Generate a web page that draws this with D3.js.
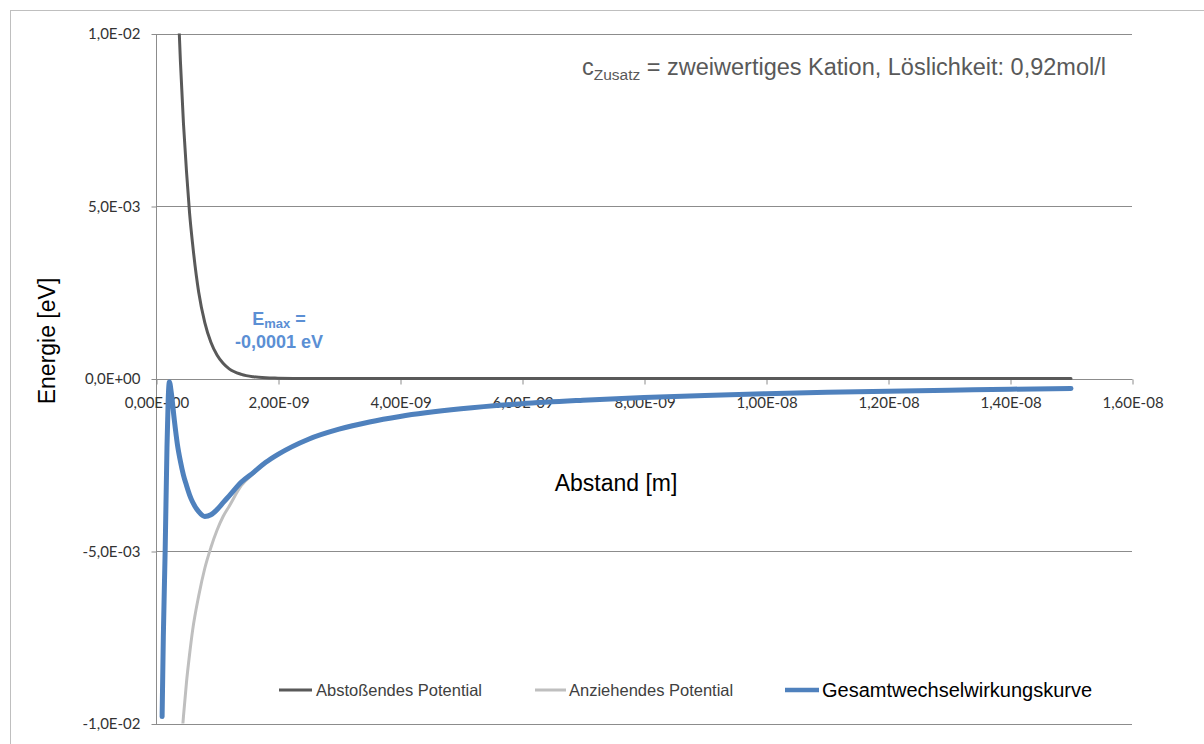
<!DOCTYPE html>
<html>
<head>
<meta charset="utf-8">
<script src="https://cdn.jsdelivr.net/npm/d3@7/dist/d3.min.js"></script>
<style>
  html, body { margin: 0; padding: 0; background: #ffffff; }
  svg { display: block; }
</style>
</head>
<body>
<svg id="chart" width="1204" height="744"></svg>
<script>
// Distance between particles in nanometres
const distanceNm = [0.10, 0.12, 0.15, 0.18, 0.20, 0.22, 0.25, 0.30, 0.35, 0.40, 0.45, 0.50, 0.55, 0.60,
  0.70, 0.80, 0.90, 1.0, 1.1, 1.2, 1.4, 1.6, 1.8, 2.0, 2.5, 3.0, 3.5, 4, 5, 6, 7, 8, 9, 10, 11, 12, 13, 14, 15];

// Repulsive (double layer) potential in eV
const repulsiveEv = [0.0339, 0.0311, 0.0273, 0.0240, 0.0220, 0.0201, 0.0177, 0.0142, 0.0114, 0.0092, 0.0074,
  0.0060, 0.0048, 0.0039, 0.0025, 0.00162, 0.00105, 0.00068, 0.00044, 0.00028, 0.00012, 0.00005, 0.00002,
  0.00001, 0, 0, 0, 0, 0, 0, 0, 0, 0, 0, 0, 0, 0, 0, 0];

// Attractive (van der Waals) potential in eV
const attractiveEv = [-0.044, -0.0367, -0.0293, -0.0244, -0.022, -0.020, -0.0176, -0.0147, -0.0126, -0.0110,
  -0.0098, -0.0088, -0.0080, -0.0073, -0.0063, -0.0055, -0.0049, -0.0044, -0.0040, -0.0037, -0.0031, -0.00275,
  -0.00244, -0.0022, -0.00176, -0.00147, -0.00126, -0.0011, -0.00088, -0.00073, -0.00063, -0.00055, -0.00049,
  -0.00044, -0.0004, -0.00037, -0.00034, -0.00031, -0.00029];

// Total interaction energy in eV
const totalEv = [-0.0098, -0.0075, -0.0050, -0.0020, -0.0006, -0.0001, -0.0004, -0.0012, -0.0019, -0.0024,
  -0.0028, -0.0031, -0.00337, -0.00358, -0.00386, -0.0040, -0.00395, -0.0038, -0.0036, -0.0034, -0.0030, -0.00272,
  -0.00243, -0.0022, -0.00176, -0.00147, -0.00126, -0.0011, -0.00088, -0.00073, -0.00063, -0.00055, -0.00049,
  -0.00044, -0.0004, -0.00037, -0.00034, -0.00031, -0.00029];

const xTickValues = [0, 2e-9, 4e-9, 6e-9, 8e-9, 1e-8, 1.2e-8, 1.4e-8, 1.6e-8];
const xTickLabels = ["0,00E+00", "2,00E-09", "4,00E-09", "6,00E-09", "8,00E-09", "1,00E-08", "1,20E-08", "1,40E-08", "1,60E-08"];
const yTickValues = [0.01, 0.005, 0, -0.005, -0.01];
const yTickLabels = ["1,0E-02", "5,0E-03", "0,0E+00", "-5,0E-03", "-1,0E-02"];

const seriesNames = ["Abstoßendes Potential", "Anziehendes Potential", "Gesamtwechselwirkungskurve"];
const seriesColors = ["#595959", "#bfbfbf", "#4f81bd"];
const emaxValue = d3.max(totalEv);

const svg = d3.select("#chart");
const plot = { left: 156, right: 1132, top: 33.5, bottom: 723.5 };

const x = d3.scaleLinear().domain([0, 1.6e-8]).range([plot.left, plot.right]);
const y = d3.scaleLinear().domain([-0.01, 0.01]).range([plot.bottom, plot.top]);

// outer chart frame
svg.append("rect")
  .attr("x", 10.5).attr("y", 10.5).attr("width", 1210).attr("height", 760)
  .attr("fill", "none").attr("stroke", "#bfbfbf").attr("stroke-width", 1);

const gridColor = "#8c8c8c";

// horizontal gridlines
svg.append("g").selectAll("line").data(yTickValues).join("line")
  .attr("x1", plot.left).attr("x2", plot.right)
  .attr("y1", d => Math.round(y(d)) + 0.5).attr("y2", d => Math.round(y(d)) + 0.5)
  .attr("stroke", gridColor).attr("stroke-width", 1);

// y axis
const yAxis = d3.axisLeft(y).tickValues(yTickValues)
  .tickFormat((d, i) => yTickLabels[i]).tickSize(5).tickPadding(11);
const gy = svg.append("g").attr("transform", `translate(${plot.left + 0.5},0.5)`).call(yAxis);
gy.select(".domain").attr("stroke", gridColor).attr("d", `M0,${plot.top}V${plot.bottom}`);
gy.selectAll(".tick line").attr("stroke", gridColor);
gy.selectAll(".tick text")
  .attr("font-family", "Lato, 'Open Sans', sans-serif").attr("font-size", 15).attr("fill", "#333");

// x axis along zero energy
const xAxis = d3.axisBottom(x).tickValues(xTickValues)
  .tickFormat((d, i) => xTickLabels[i]).tickSize(5).tickPadding(13);
const gx = svg.append("g").attr("transform", `translate(0.5,${Math.round(y(0)) + 0.5})`).call(xAxis);
gx.select(".domain").attr("stroke", gridColor).attr("d", `M${plot.left},0H${plot.right}`);
gx.selectAll(".tick line").attr("stroke", gridColor);
gx.selectAll(".tick text")
  .attr("font-family", "Lato, 'Open Sans', sans-serif").attr("font-size", 15).attr("fill", "#333");

// clip to plot area
svg.append("defs").append("clipPath").attr("id", "plotClip")
  .append("rect").attr("x", plot.left).attr("y", plot.top)
  .attr("width", plot.right - plot.left).attr("height", plot.bottom - plot.top);

const idx = d3.range(distanceNm.length);
const makeLine = values => d3.line()
  .x(i => x(distanceNm[i] * 1e-9))
  .y(i => y(values[i]))
  .curve(d3.curveMonotoneX)(idx);

const lines = svg.append("g").attr("clip-path", "url(#plotClip)");
const seriesData = [repulsiveEv, attractiveEv, totalEv];
const seriesWidths = [3, 3, 5];
seriesData.forEach((vals, k) => {
  lines.append("path")
    .attr("d", makeLine(vals))
    .attr("fill", "none")
    .attr("stroke", seriesColors[k])
    .attr("stroke-width", seriesWidths[k])
    .attr("stroke-linecap", "round")
    .attr("stroke-linejoin", "round");
});

// axis titles
svg.append("text")
  .attr("transform", "translate(55,341) rotate(-90)")
  .attr("text-anchor", "middle")
  .attr("font-family", "'Liberation Sans', Arial, sans-serif").attr("font-size", 23)
  .attr("fill", "#000").text("Energie [eV]");

svg.append("text")
  .attr("x", 616).attr("y", 491).attr("text-anchor", "middle")
  .attr("font-family", "'Liberation Sans', Arial, sans-serif").attr("font-size", 23)
  .attr("fill", "#000").text("Abstand [m]");

// condition note
const note = svg.append("text")
  .attr("x", 582).attr("y", 75)
  .attr("font-family", "'Liberation Sans', Arial, sans-serif").attr("font-size", 23.5)
  .attr("fill", "#595959");
note.append("tspan").text("c");
note.append("tspan").attr("font-size", 15.5).attr("dy", 5).text("Zusatz");
note.append("tspan").attr("dy", -5).text(" = zweiwertiges Kation, Löslichkeit: 0,92mol/l");

// maximum energy label
const fmtEv = v => v.toFixed(4).replace(".", ",");
const emax = svg.append("g")
  .attr("font-family", "'Liberation Sans', Arial, sans-serif").attr("font-weight", "bold")
  .attr("fill", "#5b8fd4").attr("text-anchor", "middle");
const emaxLine1 = emax.append("text").attr("x", 279).attr("y", 325).attr("font-size", 18);
emaxLine1.append("tspan").text("E");
emaxLine1.append("tspan").attr("font-size", 13).attr("dy", 3).text("max");
emaxLine1.append("tspan").attr("dy", -3).text(" =");
emax.append("text").attr("x", 279).attr("y", 348).attr("font-size", 18)
  .text(`${fmtEv(emaxValue)} eV`);

// legend
const legendItems = [
  { x0: 279, x1: 312, tx: 316, size: 16.5, color: "#404040", width: 3 },
  { x0: 535, x1: 566, tx: 569, size: 16.5, color: "#404040", width: 3 },
  { x0: 785, x1: 819, tx: 822, size: 20, color: "#000", width: 4.5 }
];
const legend = svg.append("g");
legendItems.forEach((it, k) => {
  legend.append("line")
    .attr("x1", it.x0).attr("x2", it.x1).attr("y1", 690).attr("y2", 690)
    .attr("stroke", seriesColors[k]).attr("stroke-width", it.width);
  legend.append("text")
    .attr("x", it.tx).attr("y", 690).attr("dy", "0.35em")
    .attr("font-family", "'Liberation Sans', Arial, sans-serif").attr("font-size", it.size)
    .attr("fill", it.color).text(seriesNames[k]);
});
</script>
</body>
</html>
